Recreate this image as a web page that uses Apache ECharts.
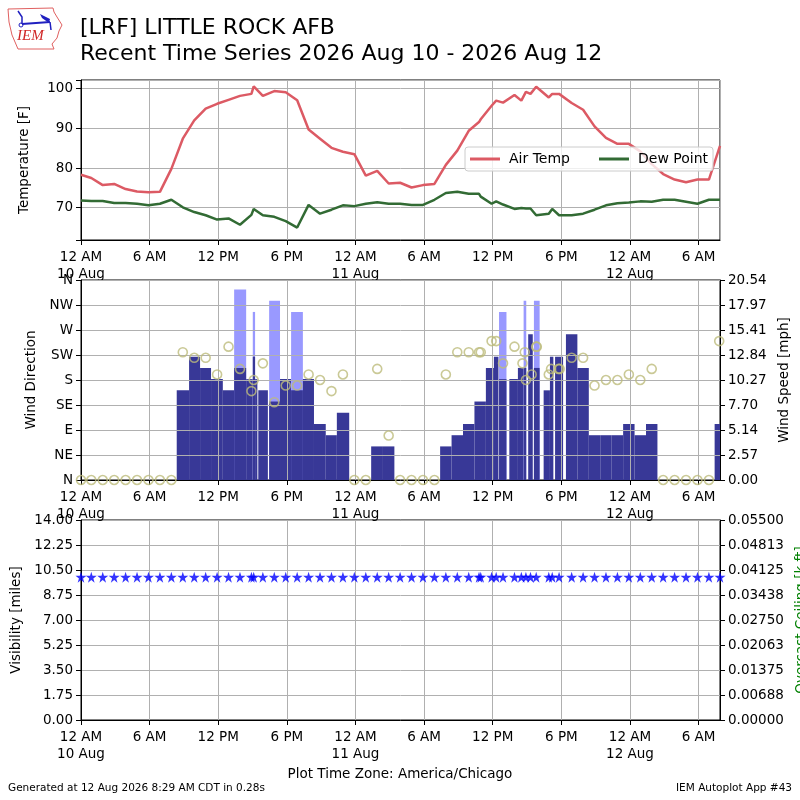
<!DOCTYPE html>
<html><head><meta charset="utf-8">
<script src="https://cdn.jsdelivr.net/npm/echarts@6/dist/echarts.min.js"></script>
<style>html,body{margin:0;padding:0;background:#fff}#c{width:800px;height:800px}</style>
</head><body><div id="c"></div>
<script>
// ---- data (hours since 2026-08-10 00:00 America/Chicago) ----
const obsHours = [0,0.9,1.9,2.9,3.9,4.9,5.9,6.9,7.9,8.9,9.9,10.9,11.9,12.9,13.9,14.9,15.1,15.9,16.9,17.9,18.9,19.9,20.9,21.9,22.9,23.9,24.9,25.9,26.9,27.9,28.9,29.9,30.9,31.9,32.9,33.9,34.8,34.95,35.9,36.3,36.9,37.9,38.5,38.9,39.3,39.8,40.9,41.2,41.8,42.9,43.9,44.9,45.9,46.9,47.9,48.9,49.9,50.9,51.9,52.9,53.9,54.9,55.87];
const airTemp = [78.3,77.5,75.7,76.0,74.7,74.1,73.9,74.0,79.8,87.4,92.0,95.0,96.2,97.2,98.2,98.7,100.6,98.2,99.4,99.1,97.1,89.7,87.4,85.1,84.1,83.5,78.1,79.3,76.1,76.3,75.1,75.7,76.0,80.8,84.4,89.4,91.6,92.3,95.7,97.0,96.5,98.4,97.0,99.2,98.7,100.5,97.8,98.7,98.7,96.4,94.7,90.5,87.6,86.1,86.1,84.2,81.0,78.5,77.1,76.4,77.1,77.1,85.6];
const dewPoint = [71.8,71.7,71.7,71.2,71.2,71.0,70.6,71.0,72.0,70.1,68.9,68.1,67.0,67.3,65.7,68.2,69.7,68.1,67.7,66.6,65.0,70.7,68.5,69.5,70.6,70.4,71.0,71.4,71.0,71.0,70.7,70.7,72.0,73.7,74.0,73.5,73.5,72.8,71.0,71.6,70.8,69.7,69.9,69.8,69.8,68.1,68.5,69.7,68.1,68.1,68.5,69.5,70.6,71.1,71.3,71.6,71.5,72.0,72.0,71.5,71.0,72.0,72.0];
const visibility = obsHours.map(() => 10);

const dirHours = [0,0.9,1.9,2.9,3.9,4.9,5.9,6.9,7.9,8.9,9.9,10.9,11.9,12.9,13.9,14.9,15.1,15.9,16.9,17.9,18.9,19.9,20.9,21.9,22.9,23.9,24.9,25.9,26.9,27.9,28.9,29.9,30.9,31.9,32.9,33.9,34.8,34.95,35.9,36.3,36.9,37.9,38.6,38.8,38.9,39.4,39.8,39.85,40.9,41.1,41.75,41.85,42.9,43.9,44.9,45.9,46.9,47.9,48.9,49.9,50.9,51.9,52.9,53.9,54.9,55.8];
const dirDeg = [0,0,0,0,0,0,0,0,0,230,220,220,190,240,200,160,180,210,140,170,170,190,180,160,190,0,0,200,80,0,0,0,0,190,230,230,230,230,250,250,210,240,210,230,180,190,240,240,190,200,200,200,220,220,170,180,180,190,180,200,0,0,0,0,0,250];

const barFrom = [8.37,9.45,10.41,11.37,12.4,13.39,14.44,15.02,15.22,15.5,16.45,17.4,18.37,19.4,20.37,21.4,22.37,25.37,26.4,31.4,32.4,33.4,34.4,35.4,36.1,36.55,37.45,38.2,38.7,39.1,39.6,40.45,41.0,41.45,42.4,43.4,44.4,45.4,46.4,47.4,48.4,49.4,55.4];
const barTo = [9.45,10.41,11.37,12.4,13.39,14.44,15.02,15.22,15.42,16.34,17.4,18.37,19.4,20.37,21.4,22.37,23.45,26.4,27.4,32.4,33.4,34.4,35.4,36.1,36.5,37.2,38.2,38.7,38.93,39.5,40.1,41.0,41.3,42.15,43.4,44.4,45.4,46.4,47.4,48.4,49.4,50.4,56.4];
const barSpeed = [9.21,12.66,11.51,10.36,9.21,11.51,10.36,12.66,10.36,9.21,8.06,10.36,9.21,10.36,5.75,4.6,6.9,3.45,3.45,3.45,4.6,5.75,8.06,11.51,12.66,10.36,10.36,11.51,11.51,14.96,11.51,9.21,12.66,12.66,14.96,11.51,4.6,4.6,4.6,5.75,4.6,5.75,5.75];
const barGust = [0,0,0,0,0,19.56,0,17.26,0,0,18.41,0,17.26,0,0,0,0,0,0,0,0,0,0,0,0,17.26,0,0,18.41,0,18.41,0,0,0,0,0,0,0,0,0,0,0,0];

const dirLabels = ['N','NE','E','SE','S','SW','W','NW','N'];
const titleLine1 = '[LRF] LITTLE ROCK AFB';
const titleLine2 = 'Recent Time Series 2026 Aug 10 - 2026 Aug 12';

// ---- chart ----
const FONT = 'DejaVu Sans';
const FS = 13.5;
const X_MAX = 55.87;
const chart = echarts.init(document.getElementById('c'), null, {renderer: 'canvas'});

function xLabel(v) {
  const r = Math.round(v);
  if (Math.abs(v - r) > 1e-6 || r % 6 !== 0) return '';
  const h = r % 24;
  const day = 10 + Math.floor(r / 24);
  if (h === 0) return '12 AM\n' + day + ' Aug';
  if (h === 6) return '6 AM';
  if (h === 12) return '12 PM';
  return '6 PM';
}
const txt = {color: '#000', fontFamily: FONT, fontSize: FS};
function xAxisCfg(gi, z) {
  return {type: 'value', gridIndex: gi, min: 0, max: X_MAX, interval: 6, z: z || 0,
    axisLine: {lineStyle: {color: '#000', width: 1}},
    axisTick: {length: 5, lineStyle: {color: '#000'}},
    axisLabel: Object.assign({formatter: xLabel, lineHeight: 17, margin: 9, showMaxLabel: false}, txt),
    splitLine: {show: true, lineStyle: {color: '#b0b0b0', width: 1}}};
}
function yAxisCfg(o) {
  return Object.assign({type: 'value', nameLocation: 'middle', nameRotate: 90,
    nameTextStyle: Object.assign({}, txt),
    axisLine: {show: true, lineStyle: {color: '#000', width: 1}},
    axisTick: {show: true, length: 5, lineStyle: {color: '#000'}},
    axisLabel: Object.assign({margin: 8}, txt),
    splitLine: {show: true, lineStyle: {color: '#b0b0b0', width: 1}}}, o);
}
function gridCfg(top, height) {
  return {left: 81, top: top, width: 639, height: height, show: true, borderColor: '#000', borderWidth: 1,
    backgroundColor: 'transparent', containLabel: false, outerBoundsMode: 'none'};
}

const starPath = 'path://M50,0 L61,35 L98,35 L68,57 L79,91 L50,70 L21,91 L32,57 L2,35 L39,35 Z';

const option = {
  animation: false,
  backgroundColor: '#fff',
  grid: [gridCfg(80, 160), gridCfg(280, 200), gridCfg(520, 200)],
  xAxis: [xAxisCfg(0), xAxisCfg(1, 5), xAxisCfg(2)],
  yAxis: [
    yAxisCfg({gridIndex: 0, min: 61.86, max: 102.2, splitNumber: 4, name: 'Temperature [F]', nameGap: 50,
      axisLabel: Object.assign({margin: 8, formatter: v => (Math.abs(v % 10) < 1e-6 ? String(Math.round(v)) : '')}, txt)}),
    yAxisCfg({gridIndex: 1, min: 0, max: 360, interval: 45, name: 'Wind Direction', nameGap: 42, z: 5,
      axisLabel: Object.assign({margin: 8, formatter: v => dirLabels[Math.round(v / 45)]}, txt)}),
    yAxisCfg({gridIndex: 1, position: 'right', min: 0, max: 20.54, interval: 2.5675, name: 'Wind Speed [mph]', nameGap: 55, z: 5,
      splitLine: {show: false},
      axisLabel: Object.assign({margin: 8, formatter: v => (v + 1e-9).toFixed(2)}, txt)}),
    yAxisCfg({gridIndex: 2, min: 0, max: 14, interval: 1.75, name: 'Visibility [miles]', nameGap: 57,
      axisLabel: Object.assign({margin: 8, formatter: v => (v + 1e-9).toFixed(2)}, txt)}),
    yAxisCfg({gridIndex: 2, position: 'right', min: 0, max: 0.055, interval: 0.006875, name: 'Overcast Ceiling [k ft]', nameGap: 72,
      nameTextStyle: Object.assign({}, txt, {color: '#008000'}),
      splitLine: {show: false},
      axisLabel: Object.assign({margin: 8, formatter: v => (v + 1e-12).toFixed(5)}, txt)})
  ],
  legend: {
    left: 465, top: 147, itemWidth: 30, itemHeight: 3, itemGap: 29,
    data: [{name: 'Air Temp', icon: 'rect'}, {name: 'Dew Point', icon: 'rect'}],
    textStyle: Object.assign({padding: [0, 0, 0, 4]}, txt, {fontSize: 14}),
    backgroundColor: 'rgba(255,255,255,0.8)', borderColor: '#cccccc', borderWidth: 1, borderRadius: 3,
    padding: [5, 5, 5, 5]
  },
  series: [
    {name: 'Air Temp', type: 'line', xAxisIndex: 0, yAxisIndex: 0, showSymbol: false, z: 3,
      data: obsHours.map((h, i) => [h, airTemp[i]]),
      lineStyle: {color: '#dc5a64', width: 2.5}, itemStyle: {color: '#dc5a64'}},
    {name: 'Dew Point', type: 'line', xAxisIndex: 0, yAxisIndex: 0, showSymbol: false, z: 3,
      data: obsHours.map((h, i) => [h, dewPoint[i]]),
      lineStyle: {color: '#326b34', width: 2.5}, itemStyle: {color: '#326b34'}},
    {name: 'Wind Speed', type: 'custom', xAxisIndex: 1, yAxisIndex: 2, z: 2,
      data: barFrom.map((f, i) => [f, barTo[i], barSpeed[i], barGust[i]]),
      encode: {x: [0, 1], y: [2, 3]},
      renderItem: function (params, api) {
        const cs = params.coordSys;
        const xr = cs.x + cs.width;
        const s = api.value(0), e = api.value(1), sp = api.value(2), g = api.value(3);
        const p0 = api.coord([s, 0]);
        const x1 = Math.min(api.coord([e, 0])[0], xr);
        const ys = api.coord([s, sp])[1];
        const children = [];
        if (g > 0) {
          const yg = api.coord([s, g])[1];
          children.push({type: 'rect', shape: {x: p0[0], y: yg, width: x1 - p0[0], height: p0[1] - yg}, style: {fill: '#9999ff'}});
        }
        children.push({type: 'rect', shape: {x: p0[0], y: ys, width: x1 - p0[0], height: p0[1] - ys}, style: {fill: '#383897'}});
        return {type: 'group', children: children};
      }},
    {name: 'Wind Direction', type: 'scatter', xAxisIndex: 1, yAxisIndex: 1, z: 10,
      data: dirHours.map((h, i) => [h, dirDeg[i]]),
      symbol: 'circle', symbolSize: 9,
      itemStyle: {color: 'rgba(0,0,0,0)', borderColor: '#bdbb7c', borderWidth: 1.6}},
    {name: 'Visibility', type: 'scatter', xAxisIndex: 2, yAxisIndex: 3, z: 10,
      data: obsHours.map((h, i) => [h, visibility[i]]),
      symbol: starPath, symbolSize: 11, itemStyle: {color: '#0000ff'}}
  ],
  graphic: [
    {type: 'text', left: 80, top: 17, style: {text: titleLine1, font: '22px "DejaVu Sans"', fill: '#000'}},
    {type: 'text', left: 80, top: 43, style: {text: titleLine2, font: '22px "DejaVu Sans"', fill: '#000'}},
    {type: 'text', left: 'center', top: 767, style: {text: 'Plot Time Zone: America/Chicago', font: FS + 'px "DejaVu Sans"', fill: '#000'}},
    {type: 'text', left: 8, top: 783, style: {text: 'Generated at 12 Aug 2026 8:29 AM CDT in 0.28s', font: '10.5px "DejaVu Sans"', fill: '#000'}},
    {type: 'text', right: 8, top: 783, style: {text: 'IEM Autoplot App #43', font: '10.5px "DejaVu Sans"', fill: '#000'}},
    // IEM logo
    {type: 'polygon', shape: {points: [[8,9],[53,8],[54,12],[57,17],[62,25],[59,31],[57,38],[52,44],[54,49],[18,49],[15,42],[12,35],[9,22]]},
      style: {fill: 'none', stroke: '#e06060', lineWidth: 1}},
    {type: 'polyline', shape: {points: [[22,24],[50,22]]}, style: {stroke: '#2020c0', lineWidth: 2}},
    {type: 'polyline', shape: {points: [[18,11],[22,17],[22,24]]}, style: {stroke: '#2020c0', lineWidth: 1.5, fill: 'none'}},
    {type: 'polygon', shape: {points: [[40,14],[50,19],[49,23],[42,18]]}, style: {fill: '#2020c0'}},
    {type: 'polyline', shape: {points: [[50,22],[51,30]]}, style: {stroke: '#2020c0', lineWidth: 1.5}},
    {type: 'circle', shape: {cx: 21, cy: 25, r: 2}, style: {fill: 'none', stroke: '#2020c0', lineWidth: 1}},
    {type: 'text', left: 17, top: 29, style: {text: 'IEM', font: 'italic 15px "Liberation Serif"', fill: '#d02828'}}
  ]
};
chart.setOption(option);
</script>
</body></html>
